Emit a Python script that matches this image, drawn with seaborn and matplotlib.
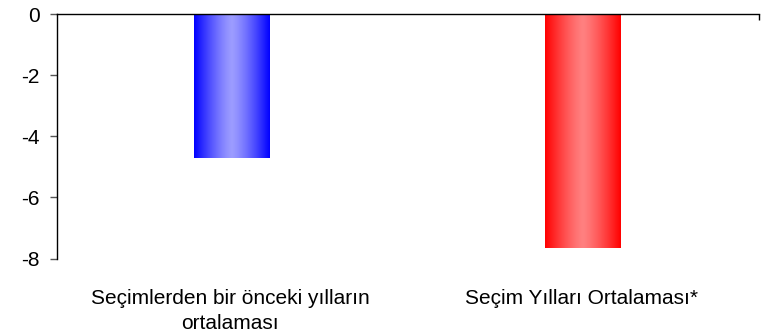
import numpy as np
import pandas as pd
import matplotlib
matplotlib.use("Agg")
import matplotlib.pyplot as plt
import seaborn as sns
from matplotlib.colors import to_rgb

# Data
categories = ["Seçimlerden bir önceki yılların\nortalaması", "Seçim Yılları Ortalaması*"]
values = [-4.71, -7.66]
edge_colors = ["#0000FF", "#FF0000"]
center_colors = ["#9C9CFF", "#FF8080"]
y_ticks = [0, -2, -4, -6, -8]

sns.set_theme(style="white")
plt.rcParams["font.family"] = ["Liberation Sans", "DejaVu Sans"]
plt.rcParams["text.color"] = "black"

fig = plt.figure(figsize=(7.63, 3.34), dpi=100)
ax = fig.add_axes([56.5 / 763, 1 - 258.5 / 334, (758.5 - 56.5) / 763, (258.5 - 14) / 334])

df = pd.DataFrame({"cat": categories, "val": values})
sns.barplot(data=df, x="cat", y="val", hue="cat", palette=edge_colors,
            width=0.214, legend=False, ax=ax, linewidth=0, saturation=1)

# Horizontal gradient fill: saturated edges, light centre
for patch, ec, cc in zip(ax.patches, edge_colors, center_colors):
    x0, y0 = patch.get_x(), patch.get_y()
    w, h = patch.get_width(), patch.get_height()
    t = np.linspace(-1, 1, 256)
    f = np.clip(np.abs(t) ** 1.3, 0, 1)[:, None]
    e, c = np.array(to_rgb(ec)), np.array(to_rgb(cc))
    grad = (c * (1 - f) + e * f)[None, :, :]
    im = ax.imshow(grad, extent=[x0, x0 + w, min(y0, y0 + h), max(y0, y0 + h)],
                   aspect="auto", zorder=patch.get_zorder() + 0.1, interpolation="bilinear")
    im.set_clip_path(patch)

ax.set_xlim(-0.5, 1.5)
ax.set_ylim(-8, 0)
ax.set_yticks(y_ticks)
ax.set_yticklabels([str(v) for v in y_ticks], fontsize=15)
ax.set_xticks([-0.005, 0.995, 1.5])
ax.set_xticklabels(categories + [""], fontsize=15, linespacing=1.4)
ax.set_xlabel("")
ax.set_ylabel("")

for s in ["right", "bottom"]:
    ax.spines[s].set_visible(False)
for s in ["left", "top"]:
    ax.spines[s].set_color("black")
    ax.spines[s].set_linewidth(1.0)

ax.tick_params(axis="x", bottom=False, top=True, labeltop=False, labelbottom=True,
               direction="in", length=4, width=1, color="black", pad=22,
               labelcolor="black")
ax.tick_params(axis="y", left=True, direction="out", length=5, width=1,
               color="#555555", pad=7, labelcolor="black")

fig.savefig("out.png", dpi=100)
